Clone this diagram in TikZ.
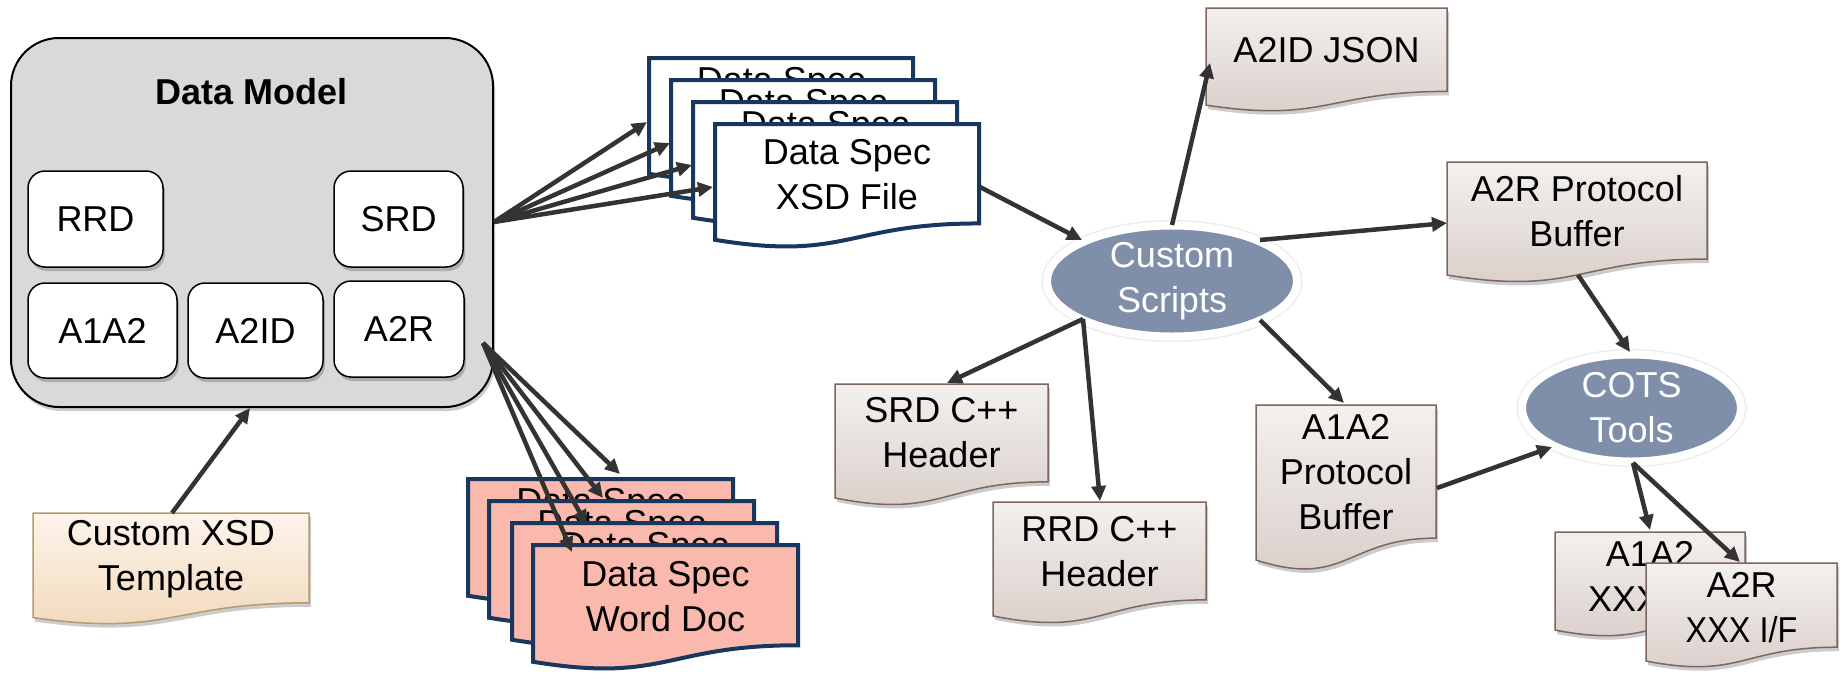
\documentclass[tikz,border=0pt]{standalone}
\usepackage{fontspec}
\setmainfont{Liberation Sans}
\newfontfamily\semiNarrow[FakeStretch=0.9]{Liberation Sans}
\usetikzlibrary{shapes.geometric,shadows,arrows.meta}

\definecolor{arrowgray}{HTML}{333333}
\definecolor{navy}{HTML}{17375E}
\definecolor{salmon}{HTML}{FAB9AC}
\definecolor{modelgray}{HTML}{D9D9D9}
\definecolor{tantop}{HTML}{FDF4EA}
\definecolor{tanbot}{HTML}{F0D8BA}
\definecolor{tanline}{HTML}{B59B6C}
\definecolor{greytop}{HTML}{F3F0EE}
\definecolor{greybot}{HTML}{D8CDC8}
\definecolor{greyline}{HTML}{7D665B}
\definecolor{ellblue}{HTML}{7F8FAA}

\tikzset{
  txt/.style={font=\fontsize{36}{45}\selectfont, align=center, inner sep=0pt},
  flow/.style={draw=arrowgray, line width=4.5pt, -{Triangle[length=15pt,width=14pt]}},
  softshadow/.style={drop shadow={shadow xshift=2pt, shadow yshift=-4pt, opacity=0.2, fill=black}},
  specdoc/.style={draw=navy, line width=4pt, fill=white},
  worddoc/.style={draw=navy, line width=4pt, fill=salmon},
  tmpldoc/.style={draw=tanline, line width=1.5pt, top color=tantop, bottom color=tanbot, softshadow},
  outdoc/.style={draw=greyline, line width=1.5pt, top color=greytop, bottom color=greybot, softshadow},
  toolell/.style={ellipse, txt, draw=white, line width=8pt, fill=ellblue, text=white,
    preaction={draw=black!7, line width=11pt}},
  part/.style={txt, draw=black, line width=1.5pt, fill=white, rounded corners=17pt, softshadow},
}

% document outline: style, left, top, width, height (y grows downwards)
\newcommand\docpath[5]{%
  \path[#1] (#2,#3) -- ({#2+#4},#3) -- ({#2+#4},{#3+0.802*#5})
    .. controls ({#2+0.5*#4},{#3+0.802*#5}) and ({#2+0.5*#4},{#3+1.108*#5})
    .. (#2,{#3+0.934*#5}) -- cycle;}

\begin{document}
\begin{tikzpicture}[x=1pt, y=-1pt]
\useasboundingbox (0,0) rectangle (1845,678);
\fill[white] (0,0) rectangle (1845,678);

% data model container and its parts
\node[draw=black, line width=2pt, fill=modelgray, rounded corners=48pt,
      minimum width=482pt, minimum height=369pt, softshadow] (model) at (252,222.5) {};
\node[txt, font=\fontsize{36}{45}\selectfont\bfseries] (title) at (252,92) {Data Model};
\node[part, minimum width=135pt, minimum height=96pt] (rrd)  at (95.5,219) {RRD};
\node[part, minimum width=129pt, minimum height=96pt] (srd)  at (398.5,219) {SRD};
\node[part, minimum width=149pt, minimum height=95pt] (a1a2) at (102.5,330.5) {A1A2};
\node[part, minimum width=135pt, minimum height=95pt] (a2id) at (255.5,330.5) {A2ID};
\node[part, minimum width=130pt, minimum height=96pt] (a2r)  at (399,329) {A2R};

% stack of XSD specification files
\docpath{specdoc}{649}{58}{264}{124}
\node[txt, anchor=base] (xsdA) at (781,92) {Data Spec};
\docpath{specdoc}{671}{80}{264}{124}
\node[txt, anchor=base] (xsdB) at (803,114) {Data Spec};
\docpath{specdoc}{693}{102}{264}{124}
\node[txt, anchor=base] (xsdC) at (825,136) {Data Spec};
\docpath{specdoc}{715}{124}{264}{124}
\node[txt] (xsd) at (847,175) {Data Spec\\XSD File};

% stack of Word specification documents
\docpath{worddoc}{468}{479}{265}{125}
\node[txt, anchor=base] (docA) at (600.5,513) {Data Spec};
\docpath{worddoc}{489}{501}{265}{125}
\node[txt, anchor=base] (docB) at (621.5,535) {Data Spec};
\docpath{worddoc}{512}{523}{265}{125}
\node[txt, anchor=base] (docC) at (644.5,557) {Data Spec};
\docpath{worddoc}{533}{545}{265}{125}
\node[txt] (doc) at (665.5,597) {Data Spec\\Word Doc};

% template
\docpath{tmpldoc}{33}{513}{276}{112}
\node[txt] (tmpl) at (171,559) {Custom XSD\\Template};

% generated outputs
\docpath{outdoc}{1206}{8}{241}{104}
\node[txt] (json) at (1326.5,50) {A2ID JSON};
\docpath{outdoc}{1447}{162}{260}{121}
\node[txt] (a2rpb) at (1577,211) {A2R Protocol\\Buffer};
\docpath{outdoc}{835}{384}{213}{122}
\node[txt] (srdh) at (941.5,433) {SRD C++\\Header};
\docpath{outdoc}{993}{502}{213}{122}
\node[txt] (rrdh) at (1099.5,552) {RRD C++\\Header};
\docpath{outdoc}{1256}{405}{180}{166}
\node[txt] (a1a2pb) at (1346,472) {A1A2\\Protocol\\Buffer};
\docpath{outdoc}{1555}{532}{190}{105}
\node[txt] (a1a2if) at (1650,577) {A1A2\\XXX I/F};
\docpath{outdoc}{1646}{563}{191}{105}
\node[txt] (a2rif) at (1741.5,608) {A2R\\{\semiNarrow XXX I/F}};

% tools
\node[toolell, minimum width=250pt, minimum height=111pt] (scripts) at (1172,281) {Custom\\Scripts};
\node[toolell, minimum width=219pt, minimum height=107pt] (cots) at (1631.5,408) {COTS\\Tools};

% connector end points
\coordinate (mOutA) at (494,222);
\coordinate (mOutB) at (483,343);
\coordinate (xsdInA) at (647,122);
\coordinate (xsdInB) at (670,143);
\coordinate (xsdInC) at (692,165);
\coordinate (xsdInD) at (713,187);
\coordinate (docInA) at (620,474);
\coordinate (docInB) at (603,498);
\coordinate (docInC) at (587,525);
\coordinate (docInD) at (572,552);
\coordinate (tmplOut) at (172,513);
\coordinate (modelIn) at (250,408);
\coordinate (xsdOut) at (980,187);
\coordinate (scriptsIn) at (1082,240);
\coordinate (scriptsTop) at (1172,225);
\coordinate (jsonIn) at (1210,63);
\coordinate (scriptsRight) at (1260,240);
\coordinate (a2rpbIn) at (1447,223);
\coordinate (scriptsLow) at (1083,319);
\coordinate (srdhIn) at (947,383);
\coordinate (rrdhIn) at (1100,501);
\coordinate (scriptsLowR) at (1260,320);
\coordinate (a1a2pbIn) at (1344,403);
\coordinate (a1a2pbOut) at (1437,488);
\coordinate (cotsInL) at (1552,447);
\coordinate (a2rpbOut) at (1578,275);
\coordinate (cotsInT) at (1630,352);
\coordinate (cotsOut) at (1633,463);
\coordinate (a1a2ifIn) at (1650,530);
\coordinate (a2rifIn) at (1740,562);

% connectors
\draw[flow] (mOutA) -- (xsdInA);
\draw[flow] (mOutA) -- (xsdInB);
\draw[flow] (mOutA) -- (xsdInC);
\draw[flow] (mOutA) -- (xsdInD);
\draw[flow] (mOutB) -- (docInA);
\draw[flow] (mOutB) -- (docInB);
\draw[flow] (mOutB) -- (docInC);
\draw[flow] (mOutB) -- (docInD);
\draw[flow] (tmplOut) -- (modelIn);
\draw[flow] (xsdOut) -- (scriptsIn);
\draw[flow] (scriptsTop) -- (jsonIn);
\draw[flow] (scriptsRight) -- (a2rpbIn);
\draw[flow] (scriptsLow) -- (srdhIn);
\draw[flow] (scriptsLow) -- (rrdhIn);
\draw[flow] (scriptsLowR) -- (a1a2pbIn);
\draw[flow] (a1a2pbOut) -- (cotsInL);
\draw[flow] (a2rpbOut) -- (cotsInT);
\draw[flow] (cotsOut) -- (a1a2ifIn);
\draw[flow] (cotsOut) -- (a2rifIn);
\end{tikzpicture}
\end{document}
